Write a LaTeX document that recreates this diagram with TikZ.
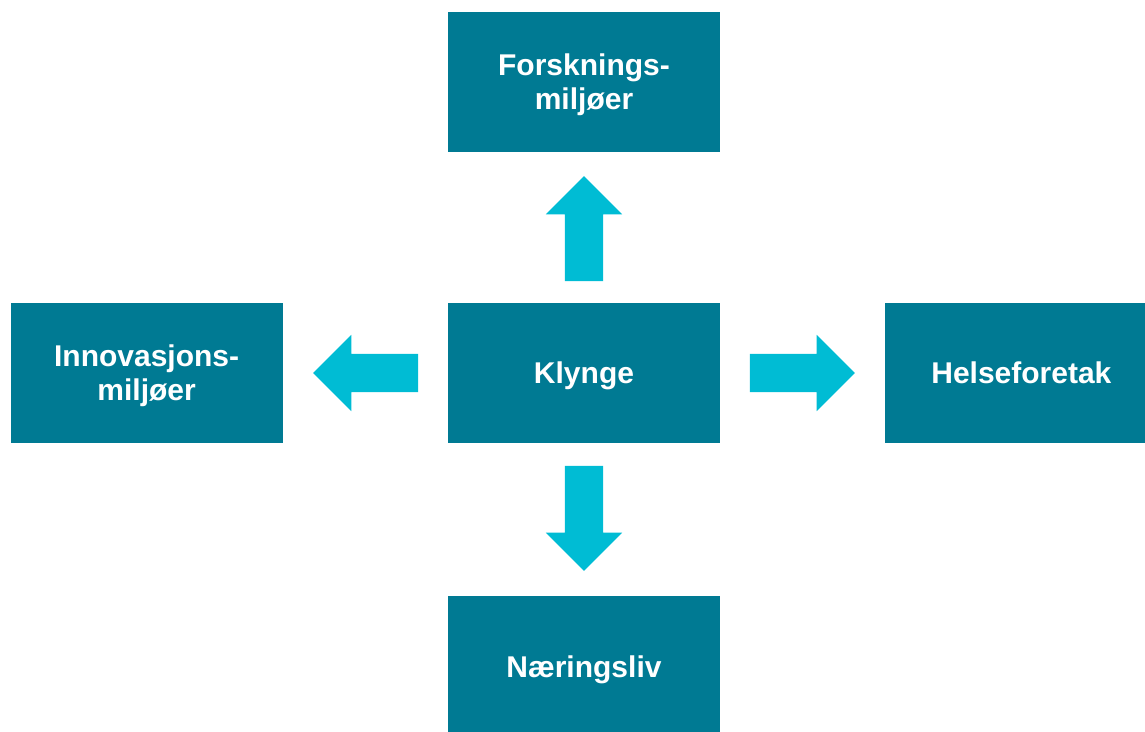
\documentclass[tikz,border=0pt]{standalone}
\usepackage{fontspec}
\setmainfont{Liberation Sans}
\usetikzlibrary{positioning, calc, shapes.arrows}
\definecolor{boxteal}{RGB}{0,122,147}
\definecolor{arrowcyan}{RGB}{0,188,212}
\tikzset{
  box/.style={
    fill=boxteal,
    draw=none,
    text=white,
    align=center,
    inner sep=0pt,
    text depth=-7pt,
    minimum width=272pt,
    minimum height=140pt,
    font=\fontsize{30}{34}\selectfont\bfseries
  },
  blockarrow/.style={
    single arrow,
    fill=arrowcyan,
    draw=none,
    inner xsep=0pt,
    inner ysep=19pt,
    minimum height=105pt,
    single arrow head extend=19pt,
    single arrow head indent=0pt
  }
}
\begin{document}
\begin{tikzpicture}[
    x=1pt, y=-1pt,
    node distance=151pt and 165pt
]
\useasboundingbox (0,0) rectangle (1145,731);

\node[box] (klynge) at (584,373) {Klynge};

\node[box, above=of klynge] (forsk)
{Forsknings-\\miljøer};

\node[box, left=of klynge] (innov)
{Innovasjons-\\miljøer};

\node[box, right=of klynge] (helse)
{Helseforetak};

\node[box, below=153pt of klynge] (naering)
{Næringsliv};

% arrows sit a little toward Klynge, since their centre is in the shaft
\node[blockarrow, rotate=90] (pilopp)
  at ($ ($(klynge)!0.5!(forsk)$)!11pt!(klynge) $) {};
\node[blockarrow, rotate=180] (pilvenstre)
  at ($ ($(klynge)!0.5!(innov)$)!10pt!(klynge) $) {};
\node[blockarrow] (pilhoyre)
  at ($ ($(klynge)!0.5!(helse)$)!10pt!(klynge) $) {};
\node[blockarrow, rotate=-90] (pilned)
  at ($ ($(klynge)!0.5!(naering)$)!11pt!(klynge) $) {};

\end{tikzpicture}
\end{document}
